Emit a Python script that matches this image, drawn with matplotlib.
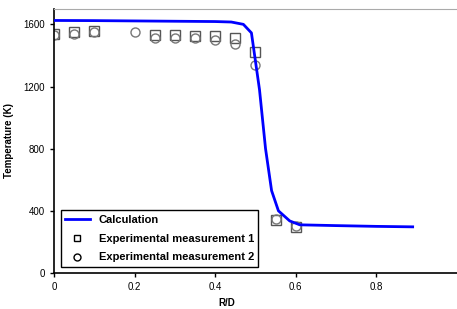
import numpy as np
import matplotlib
matplotlib.use("Agg")
import matplotlib.pyplot as plt

plt.rcParams["font.family"] = ["Liberation Sans", "DejaVu Sans"]

# vypoctena krivka
r_calc = [0, 0.1, 0.2, 0.3, 0.4, 0.44, 0.47, 0.49, 0.51, 0.525, 0.54, 0.557, 0.585, 0.61, 0.7, 0.8, 0.89]
t_calc = [1625, 1624, 1622, 1620, 1618, 1615, 1600, 1545, 1180, 800, 530, 400, 335, 310, 305, 300, 297]

# mereni 1 (ctverce)
r_exp1 = [0, 0.05, 0.1, 0.25, 0.3, 0.35, 0.4, 0.45, 0.5, 0.55, 0.6]
t_exp1 = [1540, 1550, 1555, 1530, 1530, 1525, 1525, 1515, 1420, 340, 295]

# mereni 2 (kruhy)
r_exp2 = [0, 0.05, 0.1, 0.2, 0.25, 0.3, 0.35, 0.4, 0.45, 0.5, 0.55, 0.6]
t_exp2 = [1530, 1540, 1550, 1550, 1515, 1515, 1510, 1500, 1475, 1340, 345, 300]

fig = plt.figure(figsize=(4.57, 3.09), dpi=100)
ax = fig.add_axes([0.118, 0.1165, 0.882, 0.855])

ax.plot(r_calc, t_calc, color="#0000ff", lw=2, label="Calculation", zorder=3)
ax.plot(r_exp1, t_exp1, ls="none", marker="s", ms=6.5, mfc="none", mec="#555555", mew=1,
        label="Experimental measurement 1", zorder=2)
ax.plot(r_exp2, t_exp2, ls="none", marker="o", ms=6.5, mfc="none", mec="#777777", mew=1,
        label="Experimental measurement 2", zorder=2)

ax.set_xlim(0, 1.0)
ax.set_ylim(0, 1700)
ax.set_xticks([0, 0.2, 0.4, 0.6, 0.8])
ax.set_xticklabels(["0", "0.2", "0.4", "0.6", "0.8"])
ax.set_yticks([0, 400, 800, 1200, 1600])
ax.tick_params(labelsize=7, length=3, width=1, direction="out", colors="black")

ax.spines["right"].set_visible(False)
ax.spines["top"].set_color("#aaaaaa")
ax.spines["left"].set_linewidth(1.2)
ax.spines["bottom"].set_linewidth(1.2)

ax.set_xlabel("R/D", fontsize=7, fontweight="bold")
ax.set_ylabel("Temperature (K)", fontsize=7, fontweight="bold")
ax.xaxis.set_label_coords(0.43, -0.095)
ax.yaxis.set_label_coords(-0.099, 0.5)

leg = ax.legend(loc="lower left", bbox_to_anchor=(0.017, 0.023), borderaxespad=0,
                prop={"weight": "bold", "size": 8}, fancybox=False,
                edgecolor="black", framealpha=1, handlelength=2.2,
                borderpad=0.4, labelspacing=0.8)
leg.get_frame().set_linewidth(1)
for h in leg.legend_handles[1:]:
    h.set_markeredgecolor("black")
    h.set_markersize(5)

fig.savefig("out.png", dpi=100)
